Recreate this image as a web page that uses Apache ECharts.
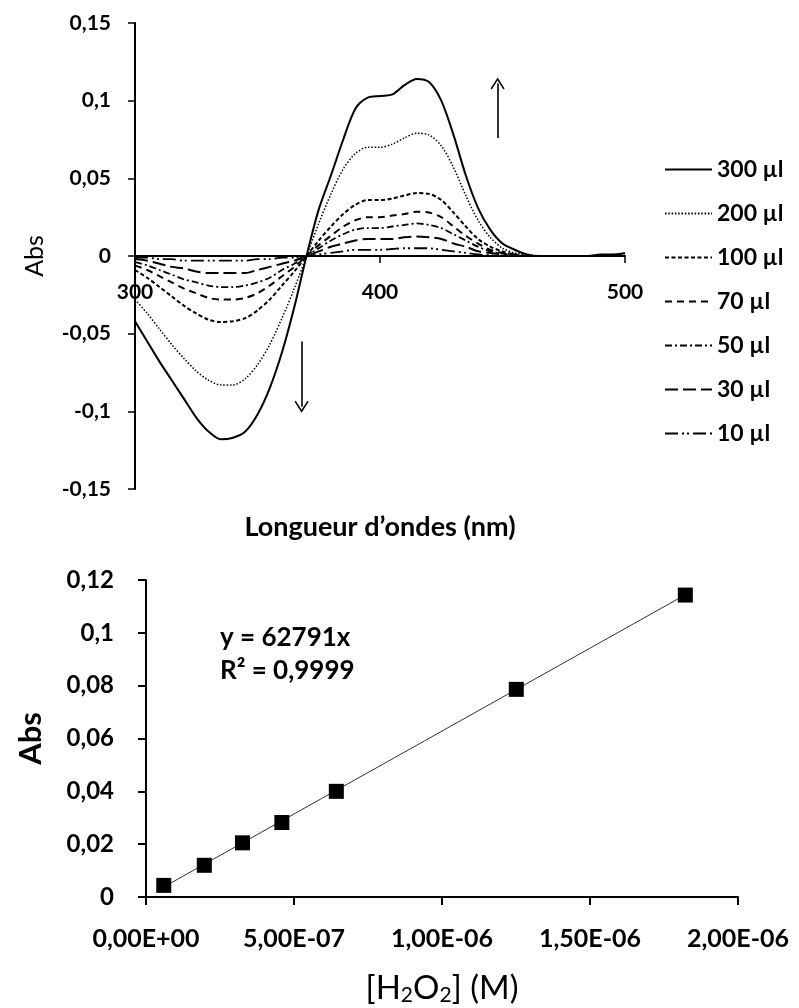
<!DOCTYPE html>
<html>
<head>
<meta charset="utf-8">
<script src="https://cdn.jsdelivr.net/npm/echarts@6/dist/echarts.min.js"></script>
<style>
html,body{margin:0;padding:0;background:#fff;}
#chart{width:799px;height:1008px;}
</style>
</head>
<body>
<div id="chart"></div>
<script>
// ---------- Top chart: difference spectra ----------
const wavelengths = [300,305,310,315,320,325,330,335,340,345,350,355,360,365,370,375,380,385,390,395,400,405,410,415,420,425,430,435,440,445,450,455,460,465,470,475,480,485,490,495,500];
const abs300 = [-0.042,-0.055,-0.068,-0.080,-0.092,-0.104,-0.113,-0.118,-0.117,-0.113,-0.102,-0.085,-0.062,-0.033,0.000,0.030,0.052,0.075,0.095,0.102,0.103,0.104,0.110,0.114,0.112,0.100,0.078,0.052,0.031,0.017,0.008,0.004,0.001,0,0,0,0,0,0.001,0.001,0.002];
const abs200 = [-0.028,-0.037,-0.047,-0.057,-0.066,-0.074,-0.080,-0.083,-0.083,-0.079,-0.070,-0.057,-0.040,-0.021,0.000,0.021,0.040,0.056,0.066,0.070,0.070,0.072,0.076,0.079,0.078,0.071,0.057,0.039,0.023,0.012,0.005,0.002,0.001,0,0,0,0,0,0,0.001,0.0015];
const abs100 = [-0.009,-0.014,-0.020,-0.026,-0.032,-0.037,-0.041,-0.0425,-0.042,-0.040,-0.035,-0.028,-0.019,-0.010,0.000,0.010,0.019,0.027,0.033,0.036,0.036,0.037,0.039,0.0405,0.040,0.036,0.028,0.019,0.011,0.006,0.003,0.001,0,0,0,0,0,0,0,0,0.0005];
const abs70 = [-0.006,-0.009,-0.013,-0.017,-0.021,-0.024,-0.027,-0.028,-0.028,-0.027,-0.024,-0.019,-0.013,-0.007,0.000,0.007,0.013,0.019,0.023,0.025,0.025,0.026,0.027,0.0285,0.028,0.025,0.019,0.013,0.008,0.004,0.002,0.001,0,0,0,0,0,0,0,0,0];
const abs50 = [-0.004,-0.006,-0.009,-0.012,-0.015,-0.017,-0.019,-0.020,-0.020,-0.019,-0.017,-0.014,-0.009,-0.005,0.000,0.005,0.010,0.014,0.017,0.018,0.018,0.019,0.020,0.021,0.020,0.018,0.014,0.010,0.006,0.003,0.0015,0.0005,0,0,0,0,0,0,0,0,0];
const abs30 = [-0.002,-0.003,-0.005,-0.007,-0.008,-0.010,-0.011,-0.011,-0.011,-0.011,-0.009,-0.007,-0.005,-0.003,0.000,0.003,0.006,0.008,0.010,0.011,0.011,0.011,0.012,0.0125,0.012,0.011,0.008,0.006,0.003,0.002,0.001,0,0,0,0,0,0,0,0,0,0];
const abs10 = [-0.001,-0.001,-0.002,-0.002,-0.003,-0.003,-0.003,-0.003,-0.003,-0.003,-0.002,-0.002,-0.001,-0.001,0.000,0.001,0.002,0.003,0.004,0.004,0.004,0.0045,0.005,0.005,0.005,0.004,0.003,0.002,0.001,0.0005,0,0,0,0,0,0,0,0,0,0,0];
const volumeNames = ['300 µl','200 µl','100 µl','70 µl','50 µl','30 µl','10 µl'];
const arrowUp = [[448, 0.076],[448, 0.111]];
const arrowDown = [[368, -0.055],[368, -0.097]];

// ---------- Bottom chart: calibration ----------
const h2o2Conc = [6.0e-8, 1.97e-7, 3.26e-7, 4.59e-7, 6.43e-7, 1.251e-6, 1.822e-6];
const h2o2Abs = [0.0044, 0.0120, 0.0205, 0.0282, 0.0400, 0.0786, 0.1143];
const trendX = [6.0e-8, 1.822e-6];
const trendY = [0.0038, 0.1144];
const eqText = 'y = 62791x';
const r2Text = 'R² = 0,9999';

const FONT = 'Lato, "Open Sans", sans-serif';
const allSpectra = [abs300, abs200, abs100, abs70, abs50, abs30, abs10];
const styles = [
  {type:'solid', width:2},
  {type:[1.5,1.8], width:1.5},
  {type:[4,2.5], width:2},
  {type:[7,5], width:2},
  {type:[7,3,2,3], width:1.8},
  {type:[13,5], width:2},
  {type:[13,4,2,3,2,4], width:1.8}
];

const chevron = 'path://M0,0 L6,10 L5,11 L0,2.6 L-5,11 L-6,10 Z';

const spectraSeries = allSpectra.map((arr, i) => {
  const s = {
    name: volumeNames[i],
    type: 'line',
    xAxisIndex: 0, yAxisIndex: 0,
    data: wavelengths.map((w, j) => [w, arr[j]]),
    smooth: 0.3,
    symbol: 'none',
    lineStyle: Object.assign({color:'#000'}, styles[i]),
    itemStyle: {color:'#000'},
    z: 10 - i,
    animation: false
  };
  if (i === 0) {
    s.markLine = {
      silent: true,
      symbol: ['none', chevron],
      symbolSize: [14, 12],
      label: {show: false},
      lineStyle: {color:'#000', width:1.6, type:'solid'},
      animation: false,
      data: [
        [{coord: arrowUp[0]}, {coord: arrowUp[1]}],
        [{coord: arrowDown[0]}, {coord: arrowDown[1]}]
      ]
    };
  }
  return s;
});

function commaFmt(v, d) {
  return String(parseFloat(v.toFixed(d))).replace('.', ',');
}
function sciFmt(v) {
  const parts = v.toExponential(2).split('e');
  const e = parseInt(parts[1], 10);
  return parts[0].replace('.', ',') + 'E' + (e < 0 ? '-' : '+') + String(Math.abs(e)).padStart(2, '0');
}

const chart = echarts.init(document.getElementById('chart'), null, {renderer:'canvas'});
chart.setOption({
  backgroundColor: '#fff',
  animation: false,
  textStyle: {fontFamily: FONT, color:'#000'},
  grid: [
    {left:135, right:174, top:23, bottom:519, containLabel:false},
    {left:146, right:61, top:580, bottom:111, containLabel:false}
  ],
  legend: {
    data: volumeNames,
    orient: 'vertical',
    left: 659,
    top: 153,
    itemWidth: 47,
    itemHeight: 20,
    itemGap: 21,
    itemStyle: {opacity: 0, borderWidth: 0},
    textStyle: {fontFamily: FONT, fontSize: 23, fontWeight:'bold', color:'#000', padding:[0,0,0,0]},
    selectedMode: false
  },
  xAxis: [
    {
      gridIndex: 0, type: 'value', min: 300, max: 500, interval: 100,
      position: 'bottom', offset: -233,
      name: 'Longueur d’ondes (nm)', nameLocation: 'middle', nameGap: 258,
      nameTextStyle: {fontFamily: FONT, fontSize: 27, fontWeight:'bold', color:'#000'},
      axisLine: {onZero: false, lineStyle: {color:'#000', width:2}},
      axisTick: {show: true, length: 7, lineStyle: {color:'#000', width:1.5}},
      axisLabel: {fontFamily: FONT, fontSize: 21, fontWeight:'bold', color:'#000', margin: 26},
      splitLine: {show: false}
    },
    {
      gridIndex: 1, type: 'value', min: 0, max: 2e-6, interval: 5e-7,
      name: '[H{sub|2}O{sub|2}] (M)', nameLocation: 'middle', nameGap: 74,
      nameTextStyle: {fontFamily: FONT, fontSize: 33, color:'#000',
        rich: {sub: {fontFamily: FONT, fontSize: 21, color:'#000', verticalAlign:'bottom', padding:[14,0,0,0]}}},
      axisLine: {onZero: false, lineStyle: {color:'#000', width:2}},
      axisTick: {show: true, length: 8, lineStyle: {color:'#000', width:2}},
      axisLabel: {fontFamily: FONT, fontSize: 25, fontWeight:'bold', color:'#000', margin: 29, formatter: v => sciFmt(v)},
      splitLine: {show: false}
    }
  ],
  yAxis: [
    {
      gridIndex: 0, type: 'value', min: -0.15, max: 0.15, interval: 0.05,
      name: 'Abs', nameLocation: 'middle', nameGap: 88, nameRotate: 90,
      nameTextStyle: {fontFamily: FONT, fontSize: 25, color:'#000'},
      axisLine: {show: true, lineStyle: {color:'#000', width:2}},
      axisTick: {show: true, length: 7, lineStyle: {color:'#000', width:1.5}},
      axisLabel: {fontFamily: FONT, fontSize: 21, fontWeight:'bold', color:'#000', margin: 24, formatter: v => commaFmt(v, 2)},
      splitLine: {show: false}
    },
    {
      gridIndex: 1, type: 'value', min: 0, max: 0.12, interval: 0.02,
      name: 'Abs', nameLocation: 'middle', nameGap: 100, nameRotate: 90,
      nameTextStyle: {fontFamily: FONT, fontSize: 31, fontWeight:'bold', color:'#000'},
      axisLine: {show: true, lineStyle: {color:'#000', width:2}},
      axisTick: {show: true, length: 8, lineStyle: {color:'#000', width:2}},
      axisLabel: {fontFamily: FONT, fontSize: 24, fontWeight:'bold', color:'#000', margin: 32, formatter: v => commaFmt(v, 3)},
      splitLine: {show: false}
    }
  ],
  graphic: [
    {type:'text', left: 220, top: 625, style: {text: eqText, font: 'bold 26px ' + FONT, fill:'#000'}},
    {type:'text', left: 220, top: 658, style: {text: r2Text, font: 'bold 26px ' + FONT, fill:'#000'}}
  ],
  series: spectraSeries.concat([
    {
      name: 'trend', type: 'line', xAxisIndex: 1, yAxisIndex: 1,
      data: trendX.map((x, i) => [x, trendY[i]]),
      symbol: 'none', lineStyle: {color:'#333', width:1}, z: 2
    },
    {
      name: 'points', type: 'scatter', xAxisIndex: 1, yAxisIndex: 1,
      data: h2o2Conc.map((x, i) => [x, h2o2Abs[i]]),
      symbol: 'rect', symbolSize: 15, itemStyle: {color:'#000', opacity: 1}, z: 5
    }
  ])
});
</script>
</body>
</html>
